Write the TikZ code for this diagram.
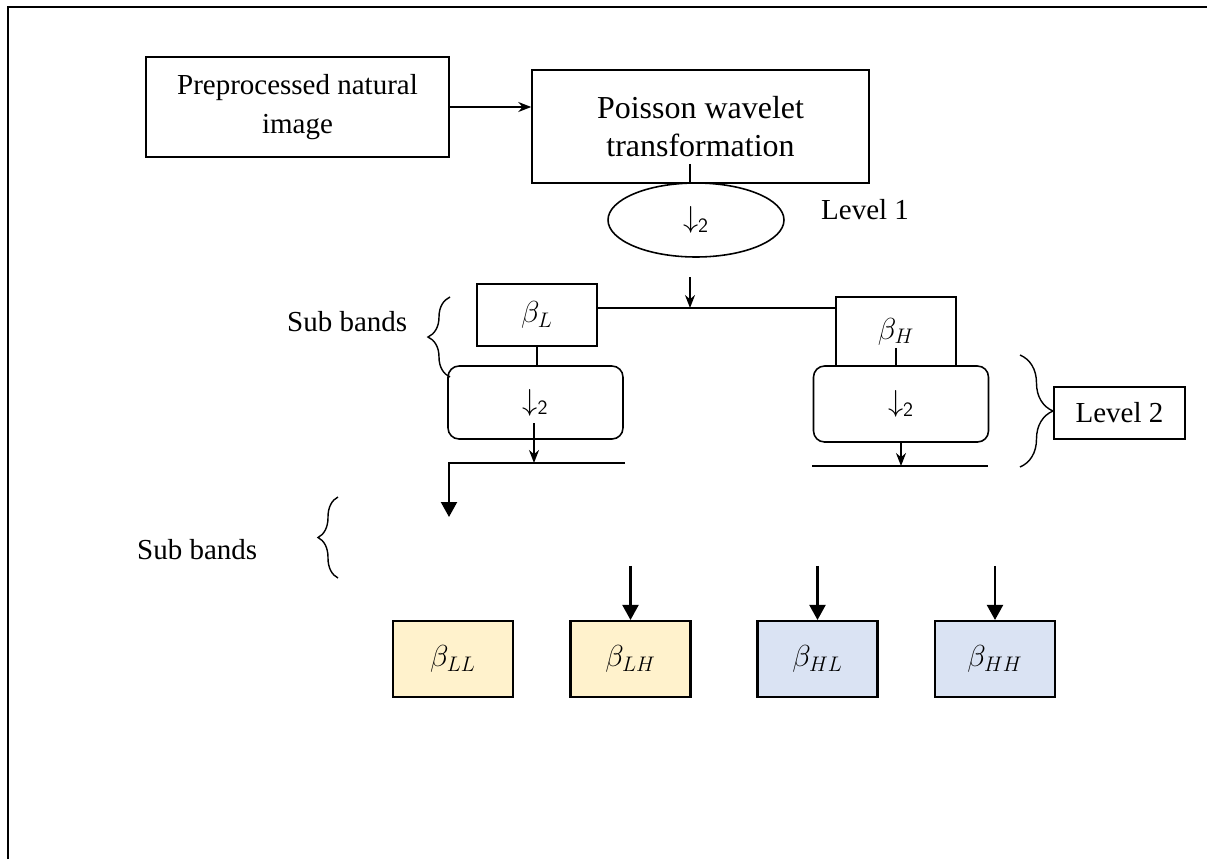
\documentclass[tikz,border=0pt]{standalone}
\usepackage{fontspec}
\setmainfont{Liberation Serif}
\usepackage{xcolor}
\usetikzlibrary{arrows.meta,shapes.geometric,decorations.pathreplacing}
\definecolor{bandyellow}{HTML}{FFF2CC}
\definecolor{bandblue}{HTML}{DAE3F3}
\newcommand{\halve}{$\downarrow_{\mathsf{2}}$}
\tikzset{
	blockbox/.style={draw,line width=0.9pt,inner sep=0pt,align=center},
	downbox/.style={draw,line width=0.9pt,rounded corners=0.22cm,minimum width=3.5cm,minimum height=1.46cm},
	bandbox/.style={draw,line width=1.2pt,minimum width=2.4cm,minimum height=1.52cm},
	smallarrow/.style={line width=0.9pt,-{Stealth[length=0.26cm,width=0.2cm]}},
	bigarrow/.style={line width=1.2pt,-{Triangle[length=0.3cm,width=0.32cm]}},
	bandbrace/.style={decorate,line width=0.8pt}
}

\begin{document}
\begin{tikzpicture}[x=0.02cm,y=-0.02cm,every node/.style={font=\fontsize{16.5}{22}\selectfont}]
			\useasboundingbox (0,0) rectangle (1207,859);
			\draw[line width=1.1pt] (8,859) -- (8,7) -- (1207,7);

			\node[blockbox,minimum width=6.06cm,minimum height=2cm] (pre) at (297.5,107) {Preprocessed natural\\image};
			\node[blockbox,minimum width=6.74cm,minimum height=2.26cm,font=\fontsize{18.2}{22}\selectfont] (pwt) at (700.5,126.5) {Poisson wavelet\\transformation};
			\node[draw,ellipse,line width=0.9pt,inner sep=0pt,minimum width=3.52cm,minimum height=1.48cm] (ds1) at (696,220) {\halve};
			\node[anchor=west] (lev1) at (815,210) {Level 1};

			\node[blockbox,minimum width=2.4cm,minimum height=1.24cm] (bl) at (537,315) {$\beta_L$};
			\node[blockbox,minimum width=2.4cm,minimum height=1.38cm] (bh) at (896,331.5) {$\beta_H$};
			\node[downbox] (lds) at (535.5,402.5) {\halve};
			\node[downbox,minimum height=1.52cm] (hds) at (901,404) {\halve};
			\node[blockbox,minimum width=2.62cm,minimum height=1.04cm] (lev2) at (1119.5,413) {Level 2};

			\node[anchor=west] (sb1) at (281,322) {Sub bands};
			\node[anchor=west] (sb2) at (131,550) {Sub bands};

			\foreach \name/\x/\col/\lab in {ll/453/bandyellow/LL,lh/630.5/bandyellow/LH,hl/817.5/bandblue/HL,hh/995/bandblue/HH}
				\node[bandbox,fill=\col] (\name) at (\x,659) {$\beta_{\lab}$};

			\coordinate (split) at (690,308);
			\coordinate (lv1out) at (690,277);
			\coordinate (ldsout) at (534,423);
			\coordinate (lsplit) at (534,463);
			\coordinate (lleft) at (449,463);
			\coordinate (lright) at (625,463);
			\coordinate (lltip) at (449,517);
			\coordinate (rleft) at (812,466);
			\coordinate (rright) at (988,466);

			\draw[smallarrow] (pre.east) -- (pre.east -| pwt.west);
			\draw[line width=0.9pt] (split |- pwt.south) ++(0,-20) -- (split |- pwt.south);
			\draw[smallarrow] (lv1out) -- (split);
			\draw[line width=0.9pt] (bl.east |- split) -- (bh.west |- split);
			\draw[line width=0.9pt] (bl.south) -- (bl.south |- lds.north);
			\draw[line width=0.9pt] ([yshift=0.38cm]bh.south) -- (bh.south);
			\draw[smallarrow] (ldsout) -- (lsplit);
			\draw[bigarrow] (lright) -- (lleft) -- (lltip);
			\draw[smallarrow] (hds.south) -- (hds.south |- rleft);
			\draw[line width=0.9pt] (rleft) -- (rright);

			\foreach \name in {lh,hl,hh}
				\draw[bigarrow] ([yshift=1.08cm]\name.north) -- (\name.north);

			\draw[bandbrace,decoration={brace,amplitude=0.44cm}] (450,377) -- (450,297);
			\draw[bandbrace,decoration={brace,amplitude=0.4cm}] (338,578) -- (338,497);
			\draw[bandbrace,decoration={brace,amplitude=0.66cm}] (1020,355) -- (1020,467);
		\end{tikzpicture}
\end{document}
